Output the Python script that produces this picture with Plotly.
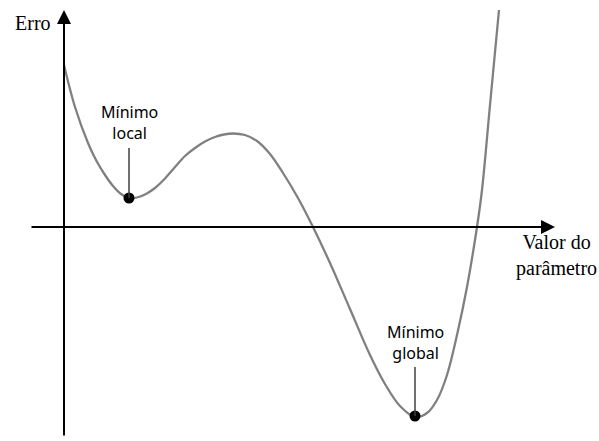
import plotly.graph_objects as go

# Error curve as a function of the parameter value
parametro = [0.00, 0.22, 0.48, 0.64, 0.82, 0.98, 1.14, 1.30, 1.46, 1.64, 1.82, 2.02,
             2.22, 2.42, 2.62, 2.82, 3.02, 3.20, 3.38, 3.62, 3.86, 4.12, 4.38, 4.68,
             4.98, 5.32, 5.72, 6.12, 6.42, 6.72, 7.02, 7.26, 7.46, 7.66, 7.86, 8.06,
             8.26, 8.36, 8.52, 8.70]
erro = [3.24, 2.40, 1.68, 1.34, 1.04, 0.82, 0.66, 0.58, 0.59, 0.66, 0.78, 0.97,
        1.20, 1.42, 1.58, 1.71, 1.80, 1.85, 1.87, 1.84, 1.72, 1.46, 1.08, 0.58,
        0.00, -0.72, -1.64, -2.56, -3.14, -3.58, -3.80, -3.72, -3.46, -2.96, -2.16, -1.20,
        0.00, 0.74, 2.44, 4.34]

# Marked minima
minimos_x = [1.30, 7.02]
minimos_y = [0.58, -3.78]
minimos_txt = ["Mínimo<br>local", "Mínimo<br>global"]

# Axis extents (data units)
eixo_x = [-0.68, 9.82]
eixo_y = [-4.2, 4.34]

fig = go.Figure()

fig.add_trace(go.Scatter(
    x=parametro, y=erro, mode="lines",
    line=dict(color="#808080", width=2.3, shape="spline", smoothing=1.0),
    hoverinfo="skip", showlegend=False,
))

fig.add_trace(go.Scatter(
    x=minimos_x, y=minimos_y, mode="markers",
    marker=dict(color="black", size=11),
    hoverinfo="skip", showlegend=False,
))

# Axes drawn as arrows
fig.add_annotation(x=eixo_x[1], y=0, ax=eixo_x[0], ay=0, xref="x", yref="y",
                   axref="x", ayref="y", text="", showarrow=True,
                   arrowhead=2, arrowsize=1.4, arrowwidth=2, arrowcolor="black")
fig.add_annotation(x=0, y=eixo_y[1], ax=0, ay=eixo_y[0], xref="x", yref="y",
                   axref="x", ayref="y", text="", showarrow=True,
                   arrowhead=2, arrowsize=1.4, arrowwidth=2, arrowcolor="black")

# Leader lines from labels to the minima
etiqueta_y = [2.1, -2.3]
linha_topo = [1.58, -2.8]
for mx, my, top, ly, txt in zip(minimos_x, minimos_y, linha_topo, etiqueta_y, minimos_txt):
    fig.add_shape(type="line", x0=mx, x1=mx, y0=my, y1=top,
                  line=dict(color="#404040", width=1.5))
    fig.add_annotation(x=mx, y=ly, text=txt, showarrow=False,
                       font=dict(family="Noto Sans", size=16, color="black"),
                       xanchor="center", yanchor="middle")

serif = dict(family="Liberation Serif", size=20, color="black")
fig.add_annotation(x=-0.62, y=4.08, text="Erro", showarrow=False, font=serif,
                   xanchor="center", yanchor="middle")
fig.add_annotation(x=9.84, y=-0.56, text="Valor do<br>parâmetro", showarrow=False,
                   font=serif, xanchor="center", yanchor="middle")

fig.update_layout(
    width=599, height=441,
    margin=dict(l=0, r=0, t=0, b=0),
    paper_bgcolor="white", plot_bgcolor="white",
    xaxis=dict(range=[-1.28, 10.7], visible=False, fixedrange=True),
    yaxis=dict(range=[-4.28, 4.54], visible=False, fixedrange=True),
)

fig.write_html("out.html")
